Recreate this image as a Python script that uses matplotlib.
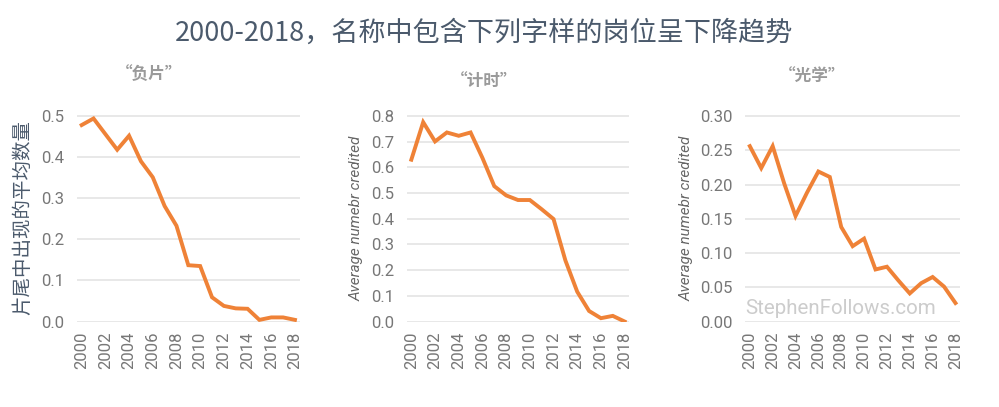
import matplotlib.pyplot as plt

years = list(range(2000, 2019))

# average number credited per film
negative = [0.478, 0.494, 0.456, 0.418, 0.452, 0.390, 0.351, 0.281, 0.233, 0.137,
            0.135, 0.059, 0.038, 0.032, 0.031, 0.004, 0.010, 0.010, 0.004]
timing = [0.630, 0.776, 0.701, 0.736, 0.723, 0.736, 0.637, 0.527, 0.491, 0.473,
          0.473, 0.437, 0.399, 0.238, 0.116, 0.041, 0.013, 0.022, 0.000]
optical = [0.256, 0.224, 0.256, 0.202, 0.154, 0.188, 0.219, 0.211, 0.138, 0.110,
           0.121, 0.076, 0.080, 0.060, 0.041, 0.056, 0.065, 0.051, 0.027]

titles = ['“负片”', '“计时”', '“光学”']
series = [negative, timing, optical]
yticks = [[0, 0.1, 0.2, 0.3, 0.4, 0.5],
          [0, 0.1, 0.2, 0.3, 0.4, 0.5, 0.6, 0.7, 0.8],
          [0, 0.05, 0.10, 0.15, 0.20, 0.25, 0.30]]
yfmt = ['{:.1f}', '{:.1f}', '{:.2f}']

plt.rcParams['font.family'] = ['Roboto', 'Noto Sans CJK SC', 'DejaVu Sans']

fig = plt.figure(figsize=(9.99, 4.07), dpi=100)

boxes = [(0.077, 0.209, 0.223, 0.511),
         (0.407, 0.209, 0.223, 0.511),
         (0.746, 0.209, 0.215, 0.511)]
title_x = [0.149, 0.485, 0.813]
title_y = [0.818, 0.80, 0.81]

tick_grey = '#777777'
orange = '#ef8237'

for i in range(3):
    ax = fig.add_axes(boxes[i])
    ax.plot(years, series[i], color=orange, lw=2.8, solid_joinstyle='miter')
    ax.set_xlim(1999.6, 2018.4)
    ax.set_ylim(-0.002 * yticks[i][-1], yticks[i][-1] * 1.01)
    ax.set_yticks(yticks[i])
    ax.set_yticklabels([yfmt[i].format(v) for v in yticks[i]])
    ax.set_xticks(years[::2])
    ax.set_xticklabels([str(y) for y in years[::2]], rotation=90)
    ax.grid(axis='y', color='#e6e6e6', lw=1.3)
    ax.set_axisbelow(True)
    for s in ax.spines.values():
        s.set_visible(False)
    ax.tick_params(length=0, labelsize=12, colors=tick_grey)
    ax.tick_params(axis='y', pad=9)
    ax.tick_params(axis='x', pad=7)
    fig.text(title_x[i], title_y[i], titles[i], ha='center', va='center',
             fontsize=12, color='#9a9a9a', fontweight='bold',
             family=['Noto Sans CJK SC', 'DejaVu Sans'])
    if i == 0:
        ax.set_ylabel('片尾中出现的平均数量', fontsize=14, color='#4b5a6c',
                      family=['Noto Sans CJK SC', 'DejaVu Sans'], labelpad=6)
    else:
        ax.set_ylabel('Average numebr credited', fontsize=11, color='#666666',
                      style='italic', labelpad=5)
    if i == 2:
        ax.text(0.0, 0.065, 'StephenFollows.com', transform=ax.transAxes,
                fontsize=14.8, color='#cccccc', ha='left', va='center')

fig.text(0.485, 0.918, '2000-2018，名称中包含下列字样的岗位呈下降趋势',
         ha='center', va='center', fontsize=19.5, color='#4b5a6c',
         family=['Noto Sans CJK SC', 'DejaVu Sans'])

fig.savefig('out.png', dpi=100, facecolor='white')
